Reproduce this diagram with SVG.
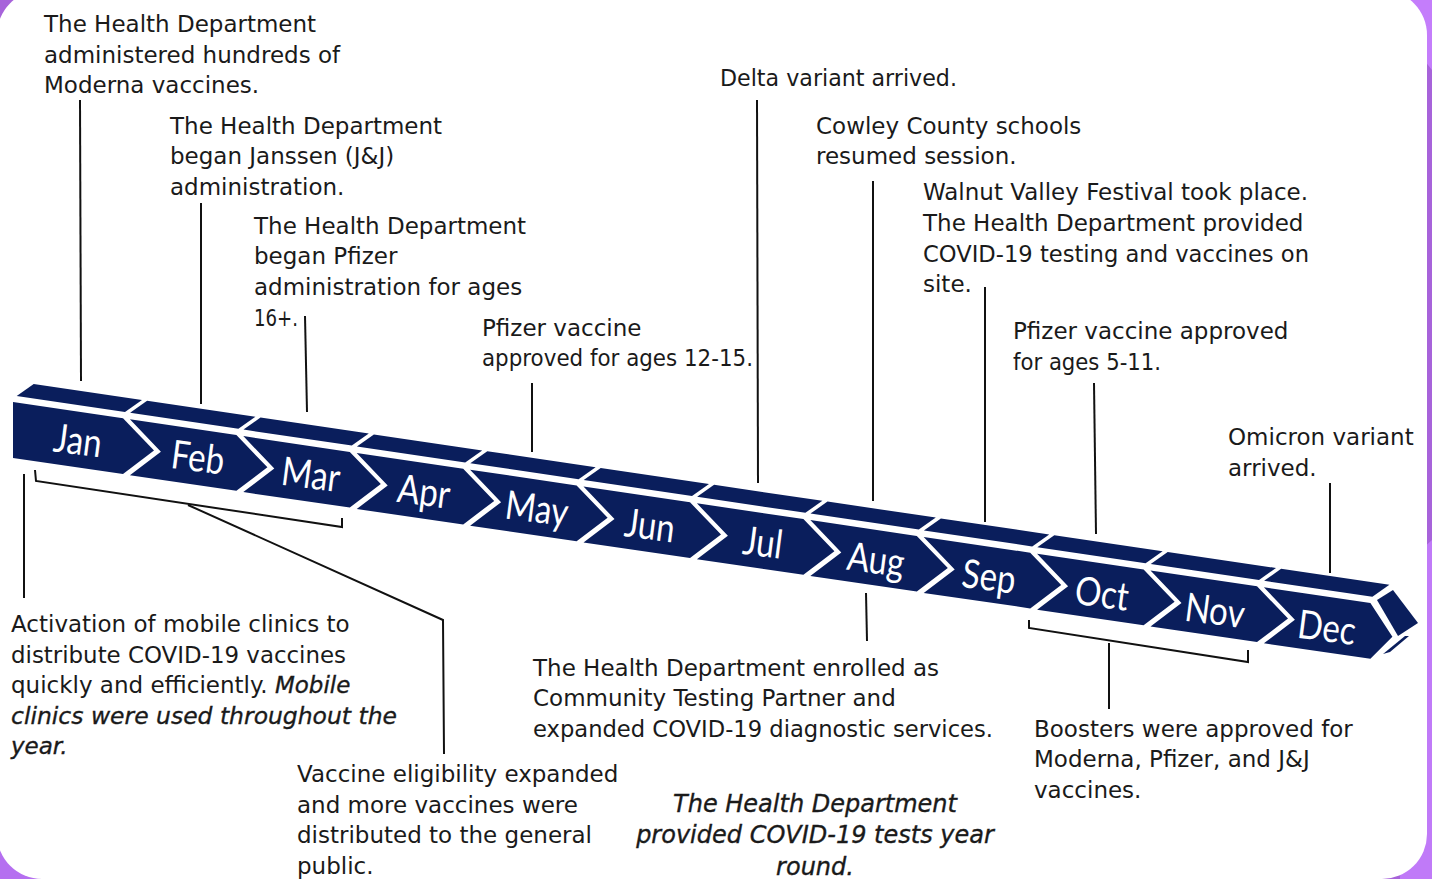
<svg xmlns="http://www.w3.org/2000/svg" xmlns:xlink="http://www.w3.org/1999/xlink" width="1432" height="879" viewBox="0 0 1432 879">
<style>
.t{font-family:"DejaVu Sans",sans-serif;font-size:23px;fill:#1a1a1a}
.it{font-style:italic;stroke:#1a1a1a;stroke-width:0.35}
.m{font-family:Lato,"Liberation Sans",sans-serif;font-size:33px;fill:#fff;text-anchor:middle}
.c{fill:none;stroke:#111;stroke-width:2}
.bar{fill:#0a1e5c}
</style>
<defs>
<polygon id="fn" points="3.5,0.5 110,16.3 141,48.5 110,72 3.5,56.5 34.5,33"/>
<polygon id="tp" points="3.7,-6 112,10 129,-2 20.7,-18"/>
</defs>
<g id="background">
<rect width="1432" height="879" fill="#a763da"/>
<polygon points="1380,0 1432,0 1432,70 1400,30" fill="#c47dfb"/>
<polygon points="1410,560 1432,540 1432,879 1400,879" fill="#c07af8"/>
<polygon points="0,820 40,879 0,879" fill="#b56ff0"/>
<rect x="-3" y="-10" width="1430" height="889" rx="45" fill="#fff"/>
</g>
<g id="timeline">
<g id="m-jan"><polygon class="bar" points="13,402 123,418.3 154,450.5 123,474 13,458"/><use href="#tp" class="bar" transform="translate(13,402)"/><g transform="translate(78,440) rotate(7.5) scale(1,1.2)"><text class="m" y="12">Jan</text></g></g>
<g id="m-feb"><use href="#fn" class="bar" transform="translate(126.4,418.8)"/><use href="#tp" class="bar" transform="translate(126.4,418.8)"/><g transform="translate(198,457) rotate(7.5) scale(1,1.2)"><text class="m" y="12">Feb</text></g></g>
<g id="m-mar"><use href="#fn" class="bar" transform="translate(239.8,435.6)"/><use href="#tp" class="bar" transform="translate(239.8,435.6)"/><g transform="translate(311,474) rotate(7.5) scale(1,1.2)"><text class="m" y="12">Mar</text></g></g>
<g id="m-apr"><use href="#fn" class="bar" transform="translate(353.2,452.4)"/><use href="#tp" class="bar" transform="translate(353.2,452.4)"/><g transform="translate(424,491) rotate(7.5) scale(1,1.2)"><text class="m" y="12">Apr</text></g></g>
<g id="m-may"><use href="#fn" class="bar" transform="translate(466.6,469.2)"/><use href="#tp" class="bar" transform="translate(466.6,469.2)"/><g transform="translate(537,508) rotate(7.5) scale(1,1.2)"><text class="m" y="12">May</text></g></g>
<g id="m-jun"><use href="#fn" class="bar" transform="translate(580,486)"/><use href="#tp" class="bar" transform="translate(580,486)"/><g transform="translate(650,525) rotate(7.5) scale(1,1.2)"><text class="m" y="12">Jun</text></g></g>
<g id="m-jul"><use href="#fn" class="bar" transform="translate(693.4,502.8)"/><use href="#tp" class="bar" transform="translate(693.4,502.8)"/><g transform="translate(763,542) rotate(7.5) scale(1,1.2)"><text class="m" y="12">Jul</text></g></g>
<g id="m-aug"><use href="#fn" class="bar" transform="translate(806.8,519.6)"/><use href="#tp" class="bar" transform="translate(806.8,519.6)"/><g transform="translate(876,559) rotate(7.5) scale(1,1.2)"><text class="m" y="12">Aug</text></g></g>
<g id="m-sep"><use href="#fn" class="bar" transform="translate(920.2,536.4)"/><use href="#tp" class="bar" transform="translate(920.2,536.4)"/><g transform="translate(989,576) rotate(7.5) scale(1,1.2)"><text class="m" y="12">Sep</text></g></g>
<g id="m-oct"><use href="#fn" class="bar" transform="translate(1033.6,553.2)"/><use href="#tp" class="bar" transform="translate(1033.6,553.2)"/><g transform="translate(1102,593) rotate(7.5) scale(1,1.2)"><text class="m" y="12">Oct</text></g></g>
<g id="m-nov"><use href="#fn" class="bar" transform="translate(1147,570)"/><use href="#tp" class="bar" transform="translate(1147,570)"/><g transform="translate(1215,610) rotate(7.5) scale(1,1.2)"><text class="m" y="12">Nov</text></g></g>
<g id="m-dec"><polygon class="bar" transform="translate(1260.4,586.8)" points="3.5,0.5 110,16.3 132,50 110,72 3.5,56.5 34.5,33"/><use href="#tp" class="bar" transform="translate(1260.4,586.8)"/>
<polygon class="bar" points="1377,600 1393,590 1418,623 1398,636"/>
<polygon class="bar" points="1383,654 1405,636 1409,636 1390,652"/>
<g transform="translate(1327,627) rotate(7.5) scale(1,1.2)"><text class="m" y="12">Dec</text></g></g>
</g>
<g id="connectors">
<path class="c" d="M80,100 L81,381"/>
<path class="c" d="M201,203 L201,404"/>
<path class="c" d="M305,316 L307,412"/>
<path class="c" d="M532,383 L532,452"/>
<path class="c" d="M757,100 L758,483"/>
<path class="c" d="M873,181 L873,501"/>
<path class="c" d="M985,287 L985,522"/>
<path class="c" d="M1094,383 L1096,534"/>
<path class="c" d="M1330,483 L1330,573"/>
<path class="c" d="M24,474 L24,598"/>
<path class="c" d="M35,470 L36,481 L342,527 L342,518"/>
<path class="c" d="M188,505 L443,620 L444,754"/>
<path class="c" d="M866,593 L867,641"/>
<path class="c" d="M1029,620 L1029,628 L1248,662 L1248,650"/>
<path class="c" d="M1109,643 L1109,709"/>
</g>
<g id="n-moderna" class="t"><text x="44" y="32">The Health Department</text><text x="44" y="63">administered hundreds of</text><text x="44" y="93">Moderna vaccines.</text></g>
<g id="n-janssen" class="t"><text x="170" y="134">The Health Department</text><text x="170" y="164">began Janssen (J&amp;J)</text><text x="170" y="195">administration.</text></g>
<g id="n-pfizer16" class="t"><text x="254" y="234">The Health Department</text><text x="254" y="264">began Pfizer</text><text x="254" y="295">administration for ages</text><text x="254" y="326" textLength="44" lengthAdjust="spacingAndGlyphs">16+.</text></g>
<g id="n-pfizer12" class="t"><text x="482" y="336">Pfizer vaccine</text><text x="482" y="366" textLength="271" lengthAdjust="spacingAndGlyphs">approved for ages 12-15.</text></g>
<g id="n-delta" class="t"><text x="720" y="86" textLength="237" lengthAdjust="spacingAndGlyphs">Delta variant arrived.</text></g>
<g id="n-schools" class="t"><text x="816" y="134">Cowley County schools</text><text x="816" y="164">resumed session.</text></g>
<g id="n-walnut" class="t"><text x="923" y="200">Walnut Valley Festival took place.</text><text x="923" y="231">The Health Department provided</text><text x="923" y="262" textLength="386" lengthAdjust="spacingAndGlyphs">COVID-19 testing and vaccines on</text><text x="923" y="292">site.</text></g>
<g id="n-pfizer5" class="t"><text x="1013" y="339">Pfizer vaccine approved</text><text x="1013" y="370" textLength="148" lengthAdjust="spacingAndGlyphs">for ages 5-11.</text></g>
<g id="n-omicron" class="t"><text x="1228" y="445">Omicron variant</text><text x="1228" y="476">arrived.</text></g>
<g id="n-mobile" class="t"><text x="11" y="632">Activation of mobile clinics to</text><text x="11" y="663" textLength="335" lengthAdjust="spacingAndGlyphs">distribute COVID-19 vaccines</text><text x="11" y="693">quickly and efficiently. <tspan class="it">Mobile</tspan></text><text x="11" y="724" class="it" textLength="386" lengthAdjust="spacingAndGlyphs">clinics were used throughout the</text><text x="11" y="754" class="it">year.</text></g>
<g id="n-eligibility" class="t"><text x="297" y="782">Vaccine eligibility expanded</text><text x="297" y="813">and more vaccines were</text><text x="297" y="843">distributed to the general</text><text x="297" y="874">public.</text></g>
<g id="n-testing" class="t"><text x="533" y="676">The Health Department enrolled as</text><text x="533" y="706">Community Testing Partner and</text><text x="533" y="737" textLength="460" lengthAdjust="spacingAndGlyphs">expanded COVID-19 diagnostic services.</text></g>
<g id="n-tests" class="t it" text-anchor="middle" style="font-size:24px"><text x="815" y="812">The Health Department</text><text x="815" y="843">provided COVID-19 tests year</text><text x="815" y="875">round.</text></g>
<g id="n-boosters" class="t"><text x="1034" y="737">Boosters were approved for</text><text x="1034" y="767">Moderna, Pfizer, and J&amp;J</text><text x="1034" y="798">vaccines.</text></g>
</svg>
